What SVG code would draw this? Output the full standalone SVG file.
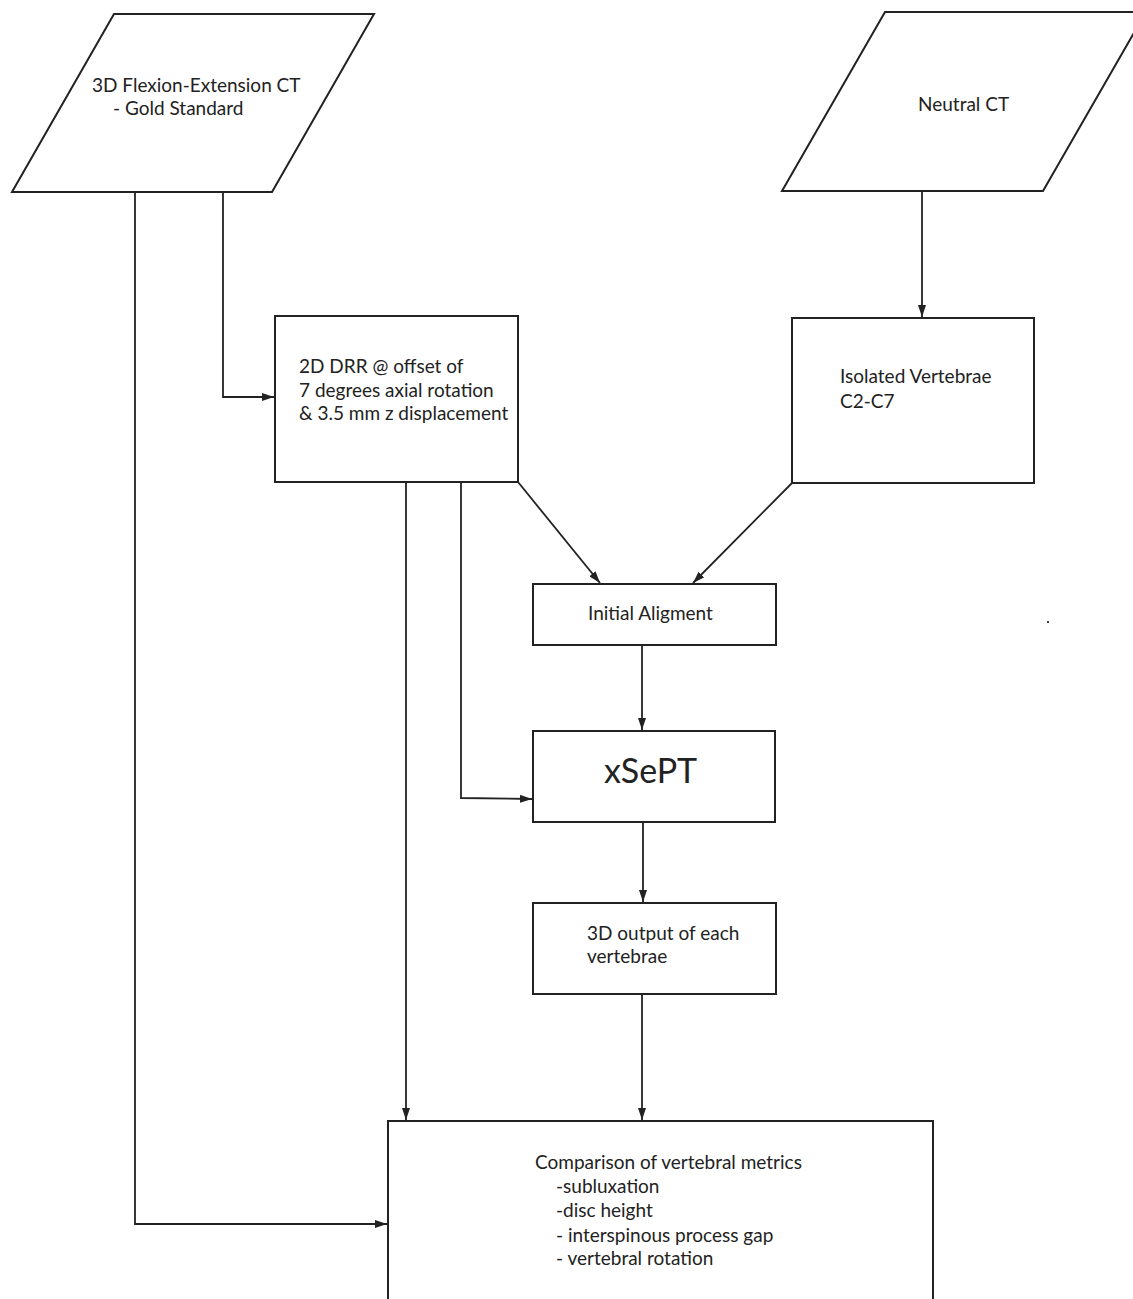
<svg xmlns="http://www.w3.org/2000/svg" width="1133" height="1299" viewBox="0 0 1133 1299">
<defs>
<style>
.shape{fill:#fff;stroke:#222;stroke-width:2}
.line{fill:none;stroke:#222;stroke-width:1.8}
text{font-family:Lato,"Open Sans",sans-serif;font-size:19px;fill:#222}
.big{font-size:34px}
</style>
<marker id="ah" viewBox="0 0 12 8" refX="12" refY="4" markerWidth="12" markerHeight="8" markerUnits="userSpaceOnUse" orient="auto">
<path d="M0,0 L12,4 L0,8 Z" fill="#222"/>
</marker>
</defs>
<rect width="1133" height="1299" fill="#fff"/>
<g id="connectors">
<polyline class="line" points="223,192 223,397 274,397" marker-end="url(#ah)"/>
<polyline class="line" points="922,191 922,317" marker-end="url(#ah)"/>
<polyline class="line" points="518,482 600,583" marker-end="url(#ah)"/>
<polyline class="line" points="792,483 693,583" marker-end="url(#ah)"/>
<polyline class="line" points="642,645 642,730" marker-end="url(#ah)"/>
<polyline class="line" points="461,482 461,798 532,799" marker-end="url(#ah)"/>
<polyline class="line" points="643,822 643,902" marker-end="url(#ah)"/>
<polyline class="line" points="406,482 406,1120" marker-end="url(#ah)"/>
<polyline class="line" points="642,994 642,1120" marker-end="url(#ah)"/>
<polyline class="line" points="135,192 135,1224 387,1224" marker-end="url(#ah)"/>
</g>
<g id="flexion-ct">
<polygon class="shape" points="114,14 374,14 272,192 12,192"/>
<text x="92" y="92">3D Flexion-Extension CT</text>
<text x="113" y="115">- Gold Standard</text>
</g>
<g id="neutral-ct">
<polygon class="shape" points="885,12 1146,12 1043,191 782,191"/>
<text x="918" y="111">Neutral CT</text>
</g>
<g id="drr">
<rect class="shape" x="275" y="316" width="243" height="166"/>
<text x="299" y="373">2D DRR @ offset of</text>
<text x="299" y="397">7 degrees axial rotation</text>
<text x="299" y="420">&amp; 3.5 mm z displacement</text>
</g>
<g id="isolated">
<rect class="shape" x="792" y="318" width="242" height="165"/>
<text x="840" y="383">Isolated Vertebrae</text>
<text x="840" y="408">C2-C7</text>
</g>
<g id="initial-alignment">
<rect class="shape" x="533" y="584" width="243" height="61"/>
<text x="588" y="620">Initial Aligment</text>
</g>
<g id="xsept">
<rect class="shape" x="533" y="731" width="242" height="91"/>
<text class="big" x="604" y="783">xSePT</text>
</g>
<g id="output">
<rect class="shape" x="533" y="903" width="243" height="91"/>
<text x="587" y="940">3D output of each</text>
<text x="587" y="963">vertebrae</text>
</g>
<g id="comparison">
<rect class="shape" x="388" y="1121" width="545" height="200"/>
<text x="535" y="1169">Comparison of vertebral metrics</text>
<text x="556" y="1193">-subluxation</text>
<text x="556" y="1217">-disc height</text>
<text x="556" y="1242">- interspinous process gap</text>
<text x="556" y="1265">- vertebral rotation</text>
</g>
<rect x="1047" y="621" width="2" height="2" fill="#444"/>
</svg>
